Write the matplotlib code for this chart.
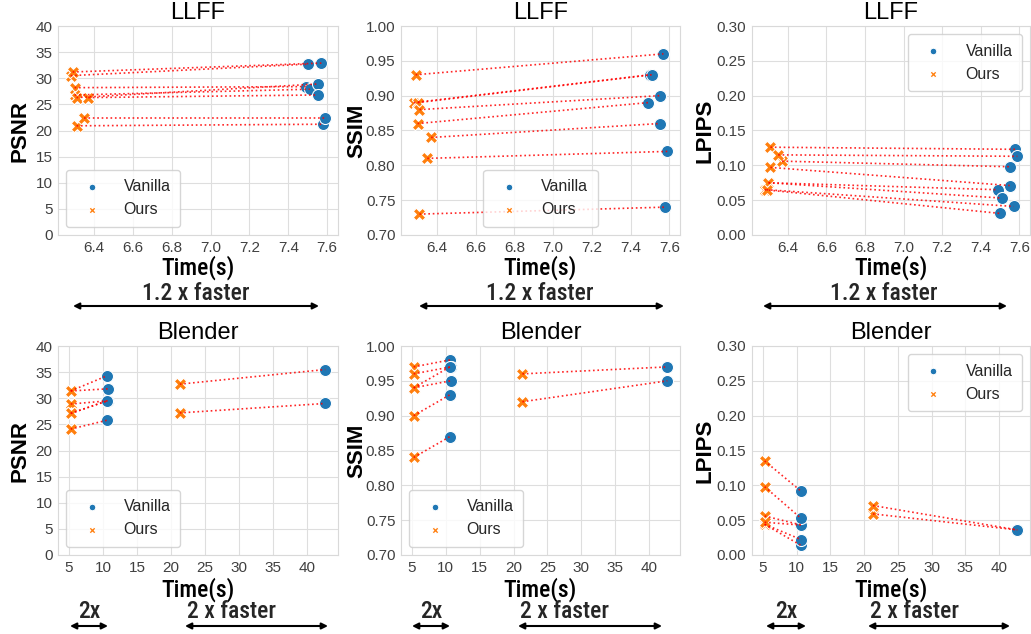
import matplotlib
matplotlib.use("Agg")
import matplotlib.pyplot as plt
import matplotlib.font_manager as fm
from matplotlib.ticker import MultipleLocator, FormatStrFormatter
import seaborn as sns

# ---------------- data ----------------
llff_time_vanilla = [7.49, 7.50, 7.51, 7.55, 7.55, 7.57, 7.58, 7.59]
llff_time_ours = [6.30, 6.28, 6.30, 6.31, 6.37, 6.29, 6.31, 6.35]
llff_psnr_vanilla = [28.4, 32.7, 27.9, 28.9, 26.8, 32.9, 21.2, 22.4]
llff_psnr_ours = [28.2, 30.5, 26.8, 26.3, 26.3, 31.2, 20.9, 22.4]
llff_ssim_vanilla = [0.89, 0.93, 0.93, 0.90, 0.86, 0.96, 0.74, 0.82]
llff_ssim_ours = [0.86, 0.89, 0.89, 0.88, 0.84, 0.93, 0.73, 0.81]
llff_lpips_vanilla = [0.065, 0.031, 0.053, 0.071, 0.098, 0.041, 0.123, 0.113]
llff_lpips_ours = [0.075, 0.065, 0.075, 0.097, 0.106, 0.065, 0.126, 0.115]

blender_time_vanilla = [10.6, 10.6, 10.7, 10.7, 10.6, 10.6, 42.7, 42.7]
blender_time_ours = [5.25, 5.25, 5.25, 5.25, 5.25, 5.25, 21.3, 21.3]
blender_psnr_vanilla = [25.8, 34.3, 31.8, 29.5, 29.5, 29.5, 35.5, 29.0]
blender_psnr_ours = [24.1, 31.4, 31.4, 28.9, 27.1, 27.1, 32.7, 27.2]
blender_ssim_vanilla = [0.87, 0.98, 0.97, 0.95, 0.97, 0.93, 0.97, 0.95]
blender_ssim_ours = [0.84, 0.97, 0.96, 0.94, 0.94, 0.90, 0.96, 0.92]
blender_lpips_vanilla = [0.092, 0.014, 0.022, 0.043, 0.043, 0.053, 0.036, 0.036]
blender_lpips_ours = [0.135, 0.044, 0.044, 0.056, 0.047, 0.098, 0.059, 0.071]

series_labels = ["Vanilla", "Ours"]
dataset_titles = ["LLFF", "Blender"]
metric_names = ["PSNR", "SSIM", "LPIPS"]
metric_ylims = [(0, 40), (0.70, 1.00), (0.0, 0.30)]
metric_steps = [5, 0.05, 0.05]
metric_fmts = ["%d", "%.2f", "%.2f"]
xlabel_text = "Time(s)"
top_speed_text = "1.2 x faster"
bottom_speed_small = "2x"
bottom_speed_big = "2 x faster"

# ---------------- style ----------------
sns.set_style("whitegrid")
plt.rcParams["font.family"] = ["Liberation Sans", "DejaVu Sans"]
plt.rcParams["axes.edgecolor"] = "0.85"
plt.rcParams["grid.color"] = "0.87"

ttf = fm.fontManager.ttflist
names = {f.name for f in ttf}
cond_family = "Roboto"
for cand in ["Roboto Condensed", "Liberation Sans Narrow", "Open Sans Condensed"]:
    if cand in names:
        cond_family = cand
        break
cond_weight = "normal"
if any(f.name == cond_family and f.weight in (500, "medium") and f.style == "normal"
       for f in ttf):
    cond_weight = 500

W, H = 1031, 634
fig = plt.figure(figsize=(W / 100, H / 100), dpi=100)

lefts = [58, 401, 752]
rights = [338, 680, 1030]
ylabel_x = [20, 357, 705]
rows = [(26, 235), (346, 555)]

c_van = "#1f77b4"
c_ours = "#ff7f0e"

datasets = [
    (llff_time_vanilla, llff_time_ours,
     [(llff_psnr_vanilla, llff_psnr_ours), (llff_ssim_vanilla, llff_ssim_ours),
      (llff_lpips_vanilla, llff_lpips_ours)]),
    (blender_time_vanilla, blender_time_ours,
     [(blender_psnr_vanilla, blender_psnr_ours), (blender_ssim_vanilla, blender_ssim_ours),
      (blender_lpips_vanilla, blender_lpips_ours)]),
]

legend_locs = [["lower left", "lower center", "upper right"],
               ["lower left", "lower left", "upper right"]]

for r, (tv, to, metrics) in enumerate(datasets):
    top, bot = rows[r]
    for c in range(3):
        wpx = rights[c] - lefts[c]
        ax = fig.add_axes([lefts[c] / W, 1 - bot / H, wpx / W, (bot - top) / H])
        van, ours = metrics[c]
        ax.scatter(tv, van, s=75, c=c_van, marker="o", edgecolors="white",
                   linewidths=0.75, zorder=3, label=series_labels[0])
        ax.scatter(to, ours, s=80, c=c_ours, marker="X", edgecolors="white",
                   linewidths=0.75, zorder=3, label=series_labels[1])
        for i in range(len(tv)):
            ax.plot([to[i], tv[i]], [ours[i], van[i]], color="red", linestyle=":",
                    linewidth=1.2, alpha=0.85, zorder=4)
        ax.set_ylim(*metric_ylims[c])
        ax.yaxis.set_major_locator(MultipleLocator(metric_steps[c]))
        ax.yaxis.set_major_formatter(FormatStrFormatter(metric_fmts[c]))
        if r == 1:
            ax.xaxis.set_major_locator(MultipleLocator(5))
        else:
            ax.xaxis.set_major_locator(MultipleLocator(0.2))
            ax.xaxis.set_major_formatter(FormatStrFormatter("%.1f"))
        ax.tick_params(labelsize=11, colors="0.25", length=0, pad=4)
        ax.set_title(dataset_titles[r], fontsize=17, pad=5, color="black")
        ax.set_ylabel(metric_names[c], fontsize=16, fontweight="bold", va="center",
                      color="black")
        ax.yaxis.set_label_coords((ylabel_x[c] - lefts[c]) / wpx, 0.5)
        ax.set_xlabel(xlabel_text, fontsize=17, family=cond_family,
                      fontweight=cond_weight, va="center", color="black")
        ax.xaxis.set_label_coords(0.5, -(33 if r == 0 else 35) / (bot - top))
        leg = ax.legend(loc=legend_locs[r][c], fontsize=11.5, markerscale=0.55,
                        frameon=True, borderpad=0.6, labelspacing=0.5,
                        handletextpad=1.0)
        for t in leg.get_texts():
            t.set_color("0.15")

# ---------- speed annotations ----------
def harrow(x0, x1, y):
    fig.add_artist(matplotlib.patches.FancyArrowPatch(
        (x0 / W, 1 - y / H), (x1 / W, 1 - y / H), transform=fig.transFigure,
        arrowstyle="<|-|>", mutation_scale=9, color="black", lw=1.5,
        shrinkA=0, shrinkB=0))

top_arrows = [(73, 319), (419, 664), (763, 1007)]
top_text_x = [196, 540, 884]
for (x0, x1), xc in zip(top_arrows, top_text_x):
    harrow(x0, x1, 306)
    fig.text(xc / W, 1 - 294 / H, top_speed_text, fontsize=17, family=cond_family,
             fontweight=cond_weight, ha="center", va="center")

small_arrows = [(70, 108), (412, 450), (766, 806)]
big_arrows = [(185, 328), (518, 662), (868, 1010)]
for (x0, x1), (b0, b1) in zip(small_arrows, big_arrows):
    harrow(x0, x1, 626)
    harrow(b0, b1, 626)
    fig.text((x0 + x1) / 2 / W, 1 - 612 / H, bottom_speed_small, fontsize=17,
             family=cond_family, fontweight=cond_weight, ha="center", va="center")
    fig.text((b0 + 2) / W, 1 - 612 / H, bottom_speed_big, fontsize=17,
             family=cond_family, fontweight=cond_weight, ha="left", va="center")

fig.savefig("out.png", dpi=100)
